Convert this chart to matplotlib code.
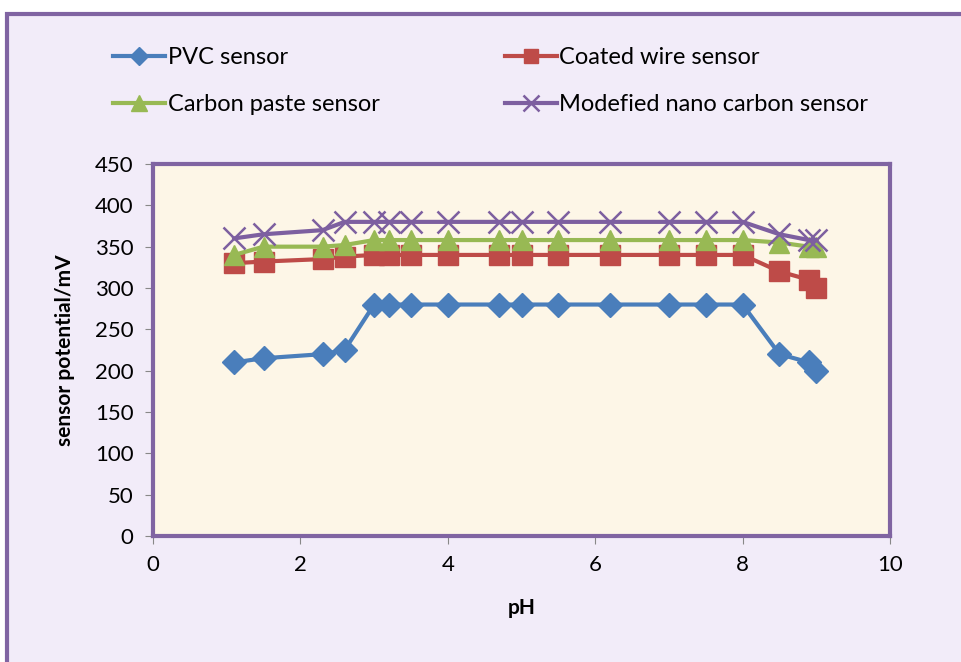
import matplotlib
matplotlib.use("Agg")
import matplotlib.pyplot as plt
from matplotlib.patches import Rectangle

# ---- data -------------------------------------------------------------------
ph = [1.1, 1.5, 2.3, 2.6, 3.0, 3.2, 3.5, 4.0, 4.7, 5.0, 5.5, 6.2, 7.0, 7.5, 8.0, 8.5, 8.9, 9.0]
pvc = [210, 215, 220, 225, 280, 280, 280, 280, 280, 280, 280, 280, 280, 280, 280, 220, 210, 200]
coated = [330, 332, 335, 338, 340, 340, 340, 340, 340, 340, 340, 340, 340, 340, 340, 320, 310, 300]
paste = [340, 350, 350, 352, 358, 358, 358, 358, 358, 358, 358, 358, 358, 358, 358, 355, 350, 350]
nano = [360, 365, 370, 380, 380, 380, 380, 380, 380, 380, 380, 380, 380, 380, 380, 365, 358, 358]

labels = ["PVC sensor", "Coated wire sensor", "Carbon paste sensor", "Modefied nano carbon sensor"]

BG = "#f2ecf9"
PLOT_BG = "#fdf6e7"
FRAME = "#8064a2"
BLUE = "#4a7ebb"
RED = "#be4b48"
GREEN = "#98b954"
PURPLE = "#7d5fa0"

plt.rcParams.update({"font.family": ["Lato", "DejaVu Sans"], "font.size": 15})

fig = plt.figure(figsize=(9.61, 6.62), dpi=100, facecolor="white")
# outer chart area with purple border
fig.patches.append(Rectangle((7 / 961, -0.05), 1.1, 1 - 14 / 662 + 0.05, transform=fig.transFigure,
                             facecolor=BG, edgecolor=FRAME, lw=3, zorder=-10))

ax = fig.add_axes([153 / 961, 1 - 536 / 662, (890 - 153) / 961, (536 - 164) / 662])
ax.set_zorder(5)
ax.set_facecolor(PLOT_BG)
for s in ax.spines.values():
    s.set_color(FRAME)
    s.set_linewidth(3)

ax.plot(ph, pvc, color=BLUE, lw=3, marker="D", ms=12, mec=BLUE, label=labels[0], zorder=3)
ax.plot(ph, coated, color=RED, lw=3, marker="s", ms=14, mec=RED, label=labels[1], zorder=3)
ax.plot(ph, paste, color=GREEN, lw=3, marker="^", ms=15, mec=GREEN, label=labels[2], zorder=3)
ax.plot(ph, nano, color=PURPLE, lw=3, marker="x", ms=16, mew=1.8, label=labels[3], zorder=4)

ax.set_xlim(0, 10)
ax.set_ylim(0, 450)
ax.set_xticks(range(0, 11, 2))
ax.set_yticks(range(0, 451, 50))
ax.tick_params(direction="out", length=6, color="#888888", labelsize=16, pad=8)
ax.set_xlabel("pH", fontweight="bold", fontsize=15, labelpad=16)
ax.set_ylabel("sensor potential/mV", fontweight="bold", fontsize=15, labelpad=14)

# row-major legend: PVC | Coated, then Paste | Nano
h, l = ax.get_legend_handles_labels()
order = [0, 2, 1, 3]
leg = fig.legend([h[i] for i in order], [l[i] for i in order], loc="upper left",
                 bbox_to_anchor=(92 / 961, 1 - 26 / 662), ncol=2, frameon=False,
                 fontsize=17, columnspacing=5.3, handlelength=2.2, handletextpad=0.1,
                 labelspacing=1.1, markerscale=0.75)
leg.set_zorder(6)

fig.savefig("out.png", dpi=100)
